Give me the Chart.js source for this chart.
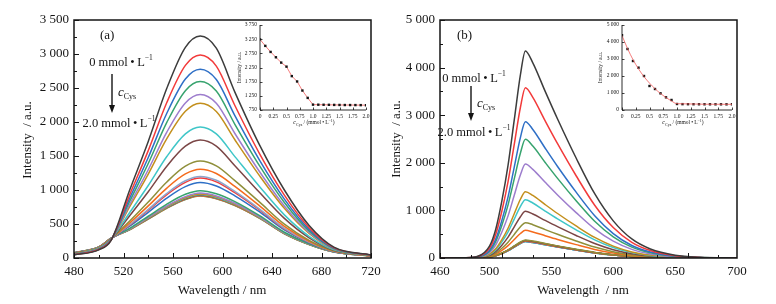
<!DOCTYPE html>
<html lang="zh">
<head>
<meta charset="UTF-8">
<title>Fluorescence spectra vs c(Cys)</title>
<script src="https://cdn.jsdelivr.net/npm/chart.js@4.4.1/dist/chart.umd.min.js"></script>
<style>
  body { margin: 0; background: #fff; width: 776px; height: 304px; overflow: hidden; position: relative; }
  canvas { position: absolute; }
</style>
</head>
<body>
<canvas id="mainA" width="388" height="304" style="left:0;top:0"></canvas>
<canvas id="mainB" width="388" height="304" style="left:388px;top:0"></canvas>
<canvas id="insetA" width="150" height="120" style="left:225px;top:12px"></canvas>
<canvas id="insetB" width="152" height="120" style="left:588px;top:12px"></canvas>
<script>
// ---- data: panel (a) ----
const wlA = [480, 500, 510, 525, 540, 555, 570, 582, 595, 610, 630, 650, 670, 690, 720];
const specA01 = [45, 120, 260, 1000, 1714, 2495, 3098, 3265, 3085, 2440, 1660, 1000, 478, 160, 45];
const specA02 = [49, 125, 264, 931, 1579, 2286, 2832, 2985, 2822, 2242, 1532, 924, 445, 152, 43];
const specA03 = [51, 128, 266, 879, 1477, 2128, 2632, 2775, 2624, 2093, 1436, 866, 420, 145, 42];
const specA04 = [54, 131, 269, 834, 1390, 1994, 2461, 2595, 2455, 1966, 1354, 817, 399, 140, 41];
const specA05 = [56, 135, 271, 787, 1298, 1851, 2281, 2405, 2276, 1831, 1268, 765, 376, 134, 39];
const specA06 = [58, 137, 273, 755, 1235, 1754, 2157, 2275, 2154, 1739, 1208, 730, 361, 130, 39];
const specA07 = [62, 143, 277, 669, 1066, 1492, 1825, 1925, 1825, 1491, 1049, 634, 319, 120, 36];
const specA08 = [65, 146, 280, 622, 974, 1350, 1644, 1735, 1646, 1357, 962, 582, 297, 114, 35];
const specA09 = [69, 151, 284, 545, 824, 1118, 1350, 1425, 1355, 1138, 821, 498, 260, 105, 33];
const specA10 = [70, 153, 285, 515, 766, 1028, 1236, 1305, 1242, 1053, 766, 465, 246, 101, 32];
const specA11 = [71, 155, 286, 489, 715, 950, 1136, 1200, 1143, 978, 718, 436, 233, 98, 32];
const specA12 = [72, 156, 287, 483, 703, 931, 1112, 1175, 1120, 960, 706, 430, 230, 98, 32];
const specA13 = [73, 157, 288, 467, 672, 882, 1050, 1110, 1059, 914, 677, 412, 222, 96, 31];
const specA14 = [74, 159, 289, 437, 614, 792, 937, 990, 946, 830, 622, 379, 208, 92, 30];
const specA15 = [75, 159, 290, 429, 597, 766, 903, 955, 913, 805, 606, 370, 204, 91, 30];
const specA16 = [75, 160, 290, 425, 590, 755, 889, 940, 899, 794, 599, 365, 202, 91, 30];
const specA17 = [75, 160, 290, 423, 586, 749, 881, 932, 891, 788, 595, 363, 201, 90, 30];
const specA18 = [75, 160, 290, 422, 583, 745, 876, 926, 886, 784, 593, 362, 201, 90, 30];
const specA19 = [75, 160, 290, 420, 580, 740, 870, 920, 880, 780, 590, 360, 200, 90, 30];
const specA20 = [76, 161, 291, 417, 576, 736, 865, 915, 875, 776, 587, 358, 199, 89, 30];
const specA21 = [77, 162, 292, 414, 572, 731, 860, 910, 870, 771, 584, 356, 198, 89, 29];

// ---- data: panel (b) ----
const wlB = [460, 480, 490, 500, 505, 510, 515, 520, 525, 529, 535, 545, 555, 570, 585, 600, 615, 630, 650, 670, 700];
const specB01 = [0, 5, 30, 250, 600, 1200, 1950, 2900, 3850, 4349, 4100, 3500, 2920, 2100, 1350, 780, 400, 190, 60, 15, 0];
const specB02 = [0, 4, 25, 206, 494, 987, 1604, 2386, 3167, 3578, 3374, 2880, 2401, 1728, 1109, 640, 329, 156, 49, 12, 0];
const specB03 = [0, 3, 20, 165, 395, 790, 1283, 1910, 2535, 2864, 2701, 2306, 1922, 1383, 888, 513, 263, 125, 40, 10, 0];
const specB04 = [0, 3, 17, 143, 344, 688, 1117, 1663, 2206, 2493, 2351, 2007, 1673, 1204, 773, 446, 229, 109, 34, 9, 0];
const specB05 = [0, 2, 14, 114, 273, 545, 885, 1317, 1748, 1975, 1862, 1590, 1325, 954, 612, 354, 182, 86, 27, 7, 0];
const specB06 = [0, 2, 10, 80, 192, 385, 625, 930, 1234, 1394, 1315, 1122, 935, 673, 432, 250, 128, 61, 19, 5, 0];
const specB07 = [0, 1, 8, 70, 169, 338, 549, 817, 1084, 1225, 1155, 986, 822, 592, 380, 219, 113, 54, 17, 4, 0];
const specB08 = [0, 1, 7, 56, 135, 270, 439, 654, 867, 980, 924, 789, 658, 473, 304, 175, 90, 43, 14, 3, 0];
const specB09 = [0, 1, 5, 43, 102, 205, 332, 495, 657, 742, 700, 597, 498, 358, 230, 133, 68, 32, 10, 3, 0];
const specB10 = [0, 1, 4, 33, 80, 160, 260, 388, 514, 581, 548, 468, 390, 281, 180, 104, 53, 25, 8, 2, 0];
const specB11 = [0, 0, 3, 22, 52, 105, 170, 253, 336, 380, 358, 306, 255, 184, 118, 68, 35, 17, 5, 1, 0];
const specB12 = [0, 0, 3, 21, 51, 102, 166, 247, 327, 370, 349, 298, 248, 179, 115, 66, 34, 16, 5, 1, 0];
const specB13 = [0, 0, 3, 21, 50, 101, 164, 243, 323, 365, 344, 294, 245, 176, 113, 65, 34, 16, 5, 1, 0];
const specB14 = [0, 0, 2, 21, 50, 99, 161, 240, 319, 360, 339, 290, 242, 174, 112, 64, 33, 16, 5, 1, 0];
const specB15 = [0, 0, 2, 21, 49, 99, 160, 238, 316, 357, 337, 287, 240, 172, 111, 64, 33, 16, 5, 1, 0];
const specB16 = [0, 0, 2, 20, 49, 98, 159, 237, 314, 355, 335, 286, 238, 171, 110, 64, 33, 16, 5, 1, 0];
const specB17 = [0, 0, 2, 20, 49, 97, 158, 235, 312, 352, 332, 283, 236, 170, 109, 63, 32, 15, 5, 1, 0];
const specB18 = [0, 0, 2, 20, 48, 97, 157, 233, 310, 350, 330, 282, 235, 169, 109, 63, 32, 15, 5, 1, 0];
const specB19 = [0, 0, 2, 20, 48, 96, 156, 232, 308, 348, 328, 280, 234, 168, 108, 62, 32, 15, 5, 1, 0];
const specB20 = [0, 0, 2, 20, 48, 95, 155, 231, 306, 346, 326, 279, 232, 167, 107, 62, 32, 15, 5, 1, 0];
const specB21 = [0, 0, 2, 20, 48, 95, 155, 230, 305, 345, 325, 278, 231, 167, 107, 62, 32, 15, 5, 1, 0];

// ---- inset data ----
const conc = [0, 0.1, 0.2, 0.3, 0.4, 0.5, 0.6, 0.7, 0.8, 0.9, 1.0, 1.1, 1.2, 1.3, 1.4, 1.5, 1.6, 1.7, 1.8, 1.9, 2.0];
const peakA = [3241, 3013, 2800, 2611, 2423, 2280, 1946, 1757, 1437, 1177, 939, 937, 935, 933, 930, 928, 926, 925, 924, 922, 920];
const peakB = [4400, 3588, 2882, 2490, 2000, 1412, 1235, 980, 745, 590, 353, 345, 342, 340, 338, 337, 336, 335, 335, 334, 334];
const fitBx = [0, 0.1, 0.2, 0.3, 0.4, 0.5, 0.6, 0.7, 0.8, 0.9, 1.0, 2.0];
const fitBy = [4380, 3620, 2960, 2420, 1960, 1580, 1250, 970, 730, 530, 370, 335];

// axis ticks
const yTicksA = [0, 500, 1000, 1500, 2000, 2500, 3000, 3500];
const xTicksA = [480, 520, 560, 600, 640, 680, 720];
const yTicksB = [0, 1000, 2000, 3000, 4000, 5000];
const xTicksB = [460, 500, 550, 600, 650, 700];

const PALETTE = ['#3c3c3c', '#f23a3a', '#2e6fc6', '#37a36e', '#9d7dcd', '#c38f1c', '#3fc6c8', '#7b4646', '#8f8f3a', '#f46b1d'];
const colorsA = PALETTE.concat(['#8da6cc', '#f23a3a', '#2e6fc6', '#37a36e', '#9d7dcd', '#c38f1c', '#3fc6c8', '#7b4646', '#f46b1d', '#7d7d7d', '#8f8f3a']);
const colorsB = PALETTE.concat(['#8f8f3a', '#7b4646', '#f46b1d', '#c38f1c', '#9d7dcd', '#f23a3a', '#2e6fc6', '#3fc6c8', '#8da6cc', '#3fc6c8', '#37a36e']);

const seriesA = [specA01, specA02, specA03, specA04, specA05, specA06, specA07, specA08, specA09, specA10, specA11,
  specA12, specA13, specA14, specA15, specA16, specA17, specA18, specA19, specA20, specA21];
const seriesB = [specB01, specB02, specB03, specB04, specB05, specB06, specB07, specB08, specB09, specB10, specB11,
  specB12, specB13, specB14, specB15, specB16, specB17, specB18, specB19, specB20, specB21];

const SERIF = '"Liberation Serif", "DejaVu Serif", serif';
const INK = '#141414';

function spaced(v) { return String(v).replace(/\B(?=(\d{3})+(?!\d))/g, ' '); }
function concLabel(v) {
  if (v === 0) return '0';
  return Number.isInteger(v) ? v.toFixed(1) : String(v);
}

// draw a run of text pieces: [text, size, dy, italic]
function rich(ctx, x, y, parts, align) {
  const fontOf = p => (p[3] ? 'italic ' : '') + p[1] + 'px ' + SERIF;
  let w = 0;
  parts.forEach(p => { ctx.font = fontOf(p); w += ctx.measureText(p[0]).width; });
  let cx = align === 'center' ? x - w / 2 : x;
  parts.forEach(p => {
    ctx.font = fontOf(p);
    ctx.fillText(p[0], cx, y + (p[2] || 0));
    cx += ctx.measureText(p[0]).width;
  });
}
function richV(ctx, x, y, parts) {
  ctx.save();
  ctx.translate(x, y);
  ctx.rotate(-Math.PI / 2);
  rich(ctx, 0, 0, parts, 'center');
  ctx.restore();
}

// frame + inward ticks
function framePlugin(cfg) {
  return {
    id: 'frame',
    afterDatasetsDraw(chart) {
      const { ctx, chartArea: a } = chart;
      const sx = chart.scales.x, sy = chart.scales.y;
      ctx.save();
      ctx.strokeStyle = INK;
      ctx.lineWidth = cfg.lw;
      ctx.beginPath();
      if (cfg.box) {
        ctx.rect(a.left, a.top, a.right - a.left, a.bottom - a.top);
      } else {
        ctx.moveTo(a.left, a.top); ctx.lineTo(a.left, a.bottom); ctx.lineTo(a.right, a.bottom);
      }
      ctx.stroke();
      ctx.lineWidth = cfg.tw;
      ctx.beginPath();
      for (let v = sx.min; v <= sx.max + 1e-9; v += cfg.xMinor) {
        const px = Math.round(sx.getPixelForValue(v)) + 0.5;
        const major = Math.abs(((v - sx.min) / cfg.xMajor) - Math.round((v - sx.min) / cfg.xMajor)) < 1e-6 || cfg.xMajorList.indexOf(v) >= 0;
        const len = major ? cfg.major : cfg.minor;
        ctx.moveTo(px, a.bottom); ctx.lineTo(px, a.bottom - len);
      }
      for (let v = sy.min; v <= sy.max + 1e-9; v += cfg.yMinor) {
        const py = Math.round(sy.getPixelForValue(v)) + 0.5;
        const major = Math.abs(((v - sy.min) / cfg.yMajor) - Math.round((v - sy.min) / cfg.yMajor)) < 1e-6;
        const len = major ? cfg.major : cfg.minor;
        ctx.moveTo(a.left, py); ctx.lineTo(a.left + len, py);
      }
      ctx.stroke();
      ctx.restore();
    }
  };
}

function notesPlugin(draw) {
  return {
    id: 'notes',
    afterDraw(chart) {
      const ctx = chart.ctx;
      ctx.save();
      ctx.fillStyle = INK;
      ctx.strokeStyle = INK;
      ctx.textBaseline = 'alphabetic';
      draw(ctx);
      ctx.restore();
    }
  };
}

function arrow(ctx, x, y0, y1) {
  ctx.lineWidth = 1.4;
  ctx.beginPath(); ctx.moveTo(x, y0); ctx.lineTo(x, y1 - 6); ctx.stroke();
  ctx.beginPath(); ctx.moveTo(x - 3, y1 - 8); ctx.lineTo(x + 3, y1 - 8); ctx.lineTo(x, y1); ctx.closePath(); ctx.fill();
}

function concText(ctx, x, y, lead) {
  rich(ctx, x, y, [[lead + 'mmol\u2009\u2022\u2009L', 12.5], ['\u22121', 7.5, -6]], 'center');
}

function mainChart(id, cfg) {
  const datasets = cfg.series.map((ys, i) => ({
    data: cfg.wl.map((w, j) => ({ x: w, y: ys[j] })),
    borderColor: cfg.colors[i],
    borderWidth: 1.5,
    pointRadius: 0,
    cubicInterpolationMode: 'monotone',
    fill: false
  }));
  const tickFont = { family: SERIF, size: 13 };
  return new Chart(document.getElementById(id), {
    type: 'line',
    data: { datasets },
    options: {
      responsive: false,
      animation: false,
      events: [],
      layout: { padding: { top: 20, right: cfg.padRight, left: 0, bottom: 0 } },
      plugins: { legend: { display: false }, tooltip: { enabled: false } },
      scales: {
        x: {
          type: 'linear', min: cfg.xMin, max: cfg.xMax,
          grid: { display: false, drawTicks: false }, border: { display: false },
          afterBuildTicks: s => { s.ticks = cfg.xTicks.map(v => ({ value: v })); },
          ticks: { autoSkip: false, maxRotation: 0, padding: 6, color: INK, font: tickFont },
          afterFit: s => { s.height = 46; }
        },
        y: {
          type: 'linear', min: cfg.yMin, max: cfg.yMax,
          grid: { display: false, drawTicks: false }, border: { display: false },
          afterBuildTicks: s => { s.ticks = cfg.yTicks.map(v => ({ value: v })); },
          ticks: { autoSkip: false, padding: 5, color: INK, font: tickFont, callback: v => spaced(v) },
          afterFit: s => { s.width = cfg.yWidth; }
        }
      }
    },
    plugins: [
      framePlugin({ box: true, lw: 1.5, tw: 1, major: 5, minor: 3,
        xMinor: cfg.xMinor, xMajor: cfg.xMajor, xMajorList: cfg.xTicks, yMinor: cfg.yMinor, yMajor: cfg.yMajor }),
      notesPlugin(cfg.notes)
    ]
  });
}

function insetChart(id, cfg) {
  const tickFont = { family: SERIF, size: 5.5 };
  return new Chart(document.getElementById(id), {
    type: 'scatter',
    data: { datasets: cfg.datasets },
    options: {
      responsive: false,
      animation: false,
      events: [],
      layout: { padding: { top: 13, right: cfg.padRight, left: 0, bottom: 0 } },
      plugins: { legend: { display: false }, tooltip: { enabled: false } },
      scales: {
        x: {
          type: 'linear', min: 0, max: 2,
          grid: { display: false, drawTicks: false }, border: { display: false },
          ticks: { stepSize: 0.25, autoSkip: false, maxRotation: 0, padding: 3, color: INK, font: tickFont, callback: v => concLabel(v) },
          afterFit: s => { s.height = 22; }
        },
        y: {
          type: 'linear', min: cfg.yMin, max: cfg.yMax,
          grid: { display: false, drawTicks: false }, border: { display: false },
          ticks: { stepSize: cfg.yStep, autoSkip: false, padding: 3, color: INK, font: tickFont, callback: v => spaced(v) },
          afterFit: s => { s.width = cfg.yWidth; }
        }
      }
    },
    plugins: [
      framePlugin({ box: false, lw: 0.9, tw: 0.8, major: 2.5, minor: 2.5,
        xMinor: 0.25, xMajor: 0.25, xMajorList: [], yMinor: cfg.yStep, yMajor: cfg.yStep }),
      notesPlugin(ctx => {
        richV(ctx, cfg.titleX, 55.5, [['Intensity / a.u.', 5.5]]);
        rich(ctx, cfg.xTitleX, 112, [['c', 6, 0, true], ['Cys', 4, 1.5], [' / (mmol\u2009\u2022\u2009L', 5.5], ['\u22121', 4, -2.5], [')', 5.5]], 'center');
      })
    ]
  });
}

// panel (a)
mainChart('mainA', {
  wl: wlA, series: seriesA, colors: colorsA,
  xMin: 480, xMax: 720, xTicks: xTicksA, xMajor: 40, xMinor: 20,
  yMin: 0, yMax: 3500, yTicks: yTicksA, yMajor: 500, yMinor: 250,
  yWidth: 74, padRight: 17,
  notes: ctx => {
    rich(ctx, 100, 39, [['(a)', 13]]);
    concText(ctx, 121, 66, '0 ');
    arrow(ctx, 112, 74, 113);
    rich(ctx, 118, 96, [['c', 13, 0, true], ['Cys', 8, 3]]);
    concText(ctx, 119, 127, '2.0 ');
    richV(ctx, 31, 140, [['Intensity  / a.u.', 13]]);
    rich(ctx, 222, 294, [['Wavelength / nm', 13]], 'center');
  }
});

// panel (b)
mainChart('mainB', {
  wl: wlB, series: seriesB, colors: colorsB,
  xMin: 460, xMax: 700, xTicks: xTicksB, xMajor: 50, xMinor: 25,
  yMin: 0, yMax: 5000, yTicks: yTicksB, yMajor: 1000, yMinor: 500,
  yWidth: 52, padRight: 39,
  notes: ctx => {
    rich(ctx, 457 - 388, 39, [['(b)', 13]]);
    concText(ctx, 474 - 388, 82, '0 ');
    arrow(ctx, 471 - 388, 86, 121);
    rich(ctx, 477 - 388, 107, [['c', 13, 0, true], ['Cys', 8, 3]]);
    concText(ctx, 474 - 388, 136, '2.0 ');
    richV(ctx, 400 - 388, 139, [['Intensity  / a.u.', 13]]);
    rich(ctx, 583 - 388, 294, [['Wavelength  / nm', 13]], 'center');
  }
});

// insets
insetChart('insetA', {
  yMin: 750, yMax: 3750, yStep: 500, yWidth: 35, padRight: 9, titleX: 16, xTitleX: 89,
  datasets: [{
    data: conc.map((c, i) => ({ x: c, y: peakA[i] })),
    showLine: true, borderColor: '#f25a5a', borderWidth: 0.8,
    pointStyle: 'rect', pointRadius: 1.7, pointBackgroundColor: '#151515', pointBorderColor: '#151515', pointBorderWidth: 0
  }]
});
insetChart('insetB', {
  yMin: 0, yMax: 5000, yStep: 1000, yWidth: 34, padRight: 8, titleX: 14, xTitleX: 95,
  datasets: [{
    data: fitBx.map((c, i) => ({ x: c, y: fitBy[i] })),
    showLine: true, borderColor: '#f25a5a', borderWidth: 0.8, pointRadius: 0,
    cubicInterpolationMode: 'monotone'
  }, {
    data: conc.map((c, i) => ({ x: c, y: peakB[i] })),
    pointStyle: 'rect', pointRadius: 1.7, pointBackgroundColor: '#151515', pointBorderColor: '#151515', pointBorderWidth: 0
  }]
});
</script>
</body>
</html>
